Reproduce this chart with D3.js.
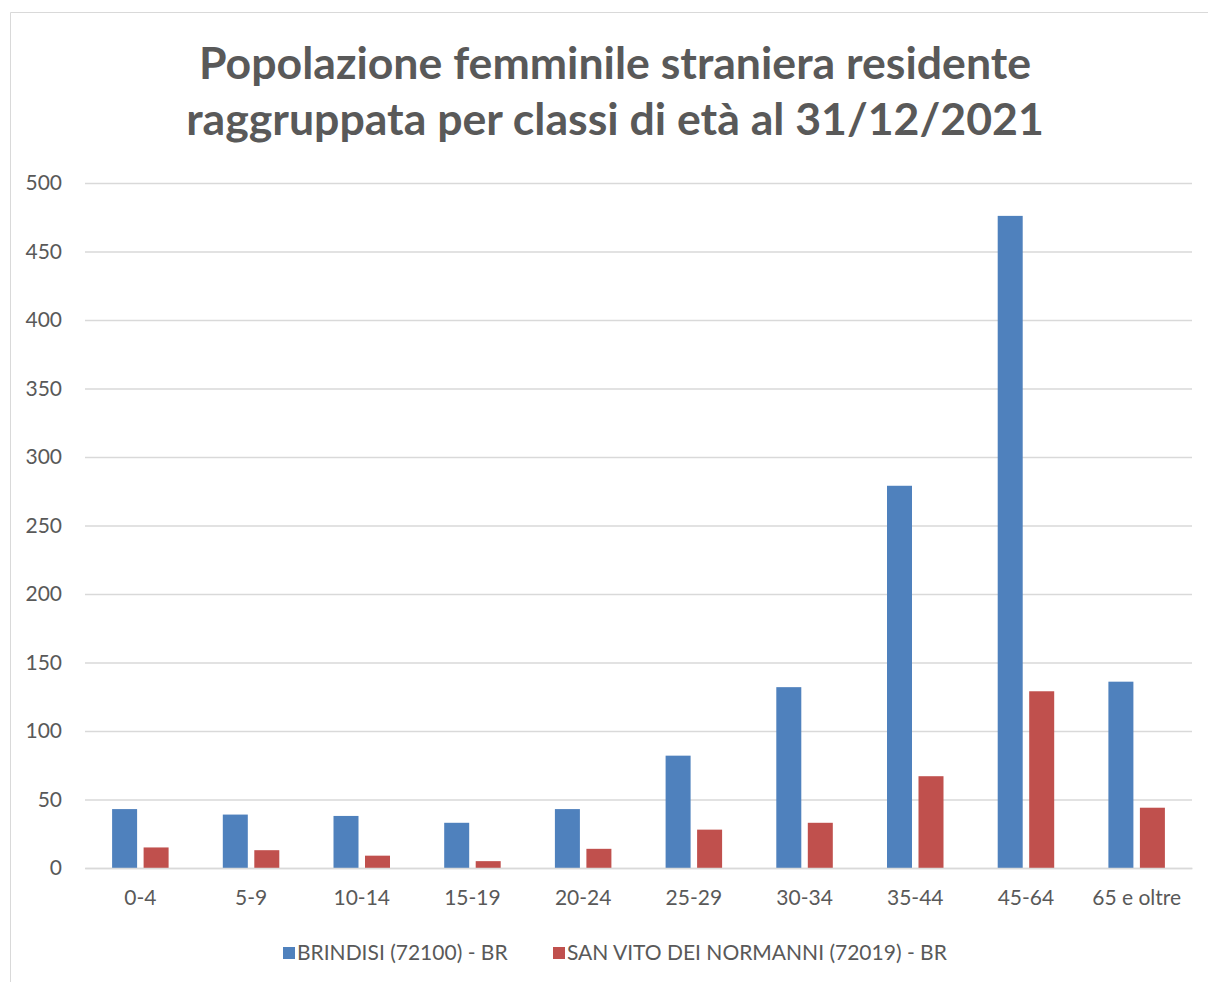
<!DOCTYPE html>
<html><head><meta charset="utf-8">
<script src="https://cdn.jsdelivr.net/npm/d3@7"></script>
<style>body{margin:0;background:#fff}svg{display:block}</style>
</head><body>
<script>
const categories = ["0-4","5-9","10-14","15-19","20-24","25-29","30-34","35-44","45-64","65 e oltre"];
const seriesNames = ["BRINDISI (72100) - BR","SAN VITO DEI NORMANNI (72019) - BR"];
const brindisi = [43,39,38,33,43,82,132,279,476,136];
const sanVito = [15,13,9,5,14,28,33,67,129,44];
const yTicks = [0,50,100,150,200,250,300,350,400,450,500];
const titleLines = ["Popolazione femminile straniera residente","raggruppata per classi di età al 31/12/2021"];
const colors = ["#4f81bd","#c0504d"];

const W=1208,H=982;
const svg=d3.select("body").append("svg").attr("width",W).attr("height",H);
const font="Lato, 'Open Sans', sans-serif";
const fsSmall=21;
svg.append("path").attr("d",`M10.5,${H} V12.5 H${W}`).attr("fill","none").attr("stroke","#d9d9d9").attr("stroke-width",1);

const x0=d3.scaleBand().domain(categories).range([85,1192]);
const y=d3.scaleLinear().domain([0,500]).range([868,183]);

// title
const tg=svg.append("g");
titleLines.forEach((t,i)=>{
  tg.append("text").attr("x",615).attr("y",79+i*56).attr("text-anchor","middle")
    .attr("font-family",font).attr("font-weight","bold").attr("font-size",40).attr("fill","#595959").text(t);
});
let tot=0; tg.selectAll("text").each(function(){tot+=this.getComputedTextLength();});
tg.selectAll("text").attr("font-size",40*(840+850)/tot);

// gridlines
const yAxis=d3.axisLeft(y).tickValues(yTicks).tickSize(-(1192-85)).tickPadding(23);
const ga=svg.append("g").attr("transform","translate(85,0)").call(yAxis);
ga.select(".domain").remove();
ga.selectAll(".tick line").attr("stroke","#d9d9d9").attr("stroke-width",1.3);
ga.selectAll(".tick text").attr("font-family",font).attr("font-size",fsSmall).attr("fill","#595959");

// bars
const data=[brindisi,sanVito];
const bw=25, gap=6.5;
data.forEach((vals,s)=>{
  svg.append("g").selectAll("rect").data(vals).join("rect")
    .attr("x",(d,i)=>x0(categories[i])+x0.bandwidth()/2 + (s===0? -(bw+gap/2) : gap/2))
    .attr("width",bw)
    .attr("y",d=>y(d)).attr("height",d=>y(0)-y(d))
    .attr("fill",colors[s]);
});

// x axis
const xAxis=d3.axisBottom(x0).tickSize(0).tickPadding(22);
const gx=svg.append("g").attr("transform","translate(0,868)").call(xAxis);
gx.select(".domain").attr("stroke","#d9d9d9").attr("stroke-width",1.3);
gx.selectAll(".tick text").attr("font-family",font).attr("font-size",fsSmall).attr("fill","#595959");

// legend
const legX=[283,553];
seriesNames.forEach((n,i)=>{
  svg.append("rect").attr("x",legX[i]).attr("y",947).attr("width",12).attr("height",12).attr("fill",colors[i]);
  svg.append("text").attr("x",legX[i]+14).attr("y",960).attr("font-family",font).attr("font-size",fsSmall).attr("fill","#595959").text(n);
});
</script>
</body></html>
